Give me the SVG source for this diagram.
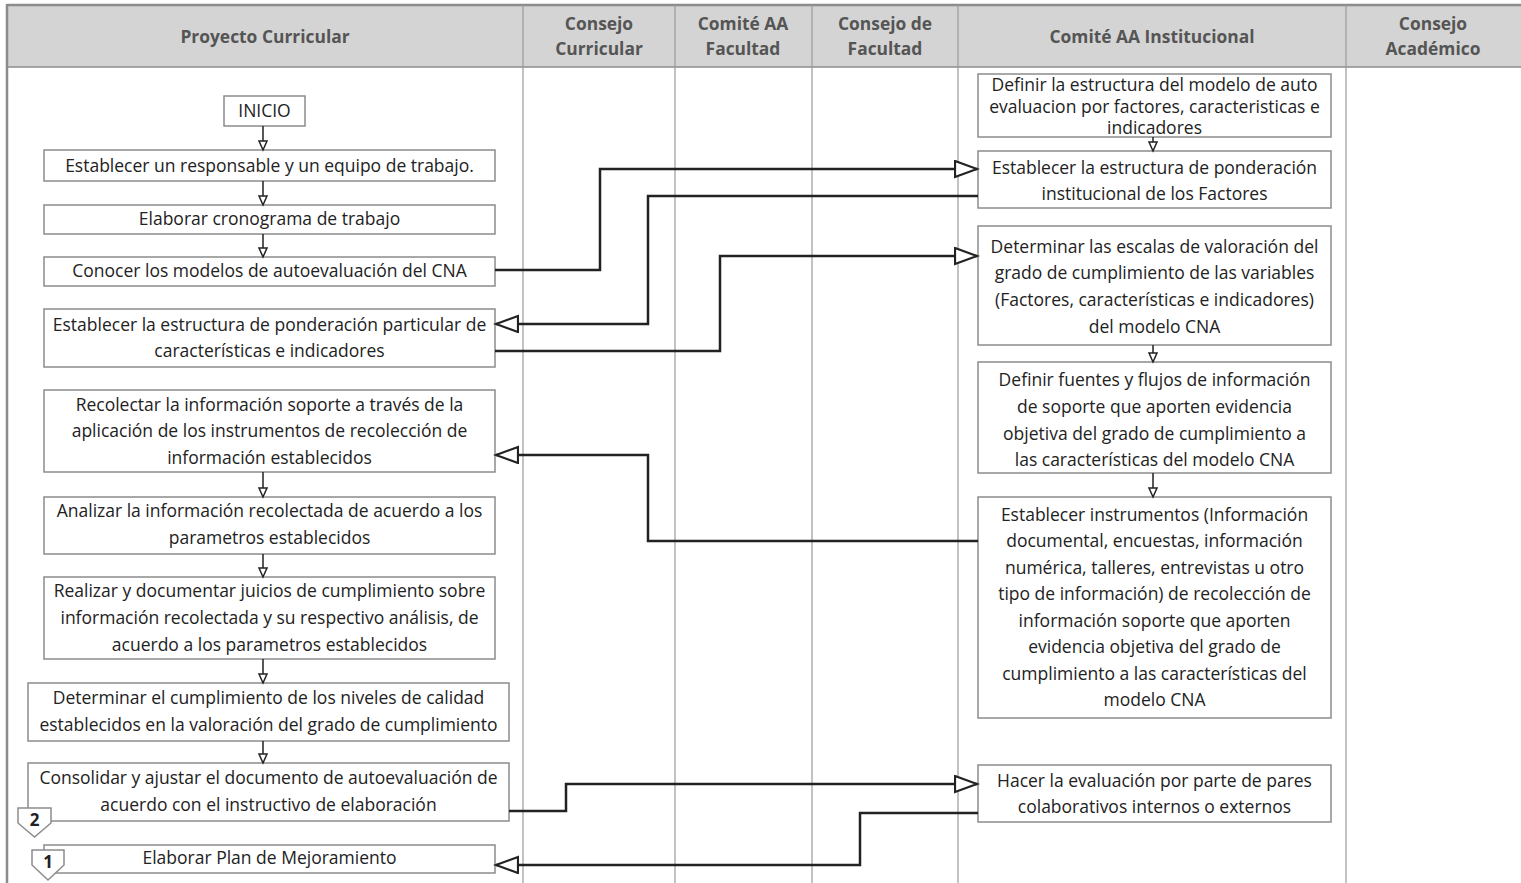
<svg xmlns="http://www.w3.org/2000/svg" width="1521" height="883" viewBox="0 0 1521 883">
<style>
.hdr{font-family:"Open Sans","Noto Sans",sans-serif;font-weight:bold;font-size:17.4px;fill:#555;text-anchor:middle}
.t{font-family:"Open Sans","Noto Sans",sans-serif;font-size:17.5px;fill:#222;text-anchor:middle}
.box{fill:#fff;stroke:#8c8c8c;stroke-width:1.5}
.lane{stroke:#9a9a9a;stroke-width:1.2;fill:none}
.con{fill:none;stroke:#222;stroke-width:2.5}
.sm{fill:none;stroke:#222;stroke-width:1.5}
.off{fill:#fff;stroke:#8c8c8c;stroke-width:1.5}
.num{font-family:"Open Sans","Noto Sans",sans-serif;font-weight:bold;font-size:17px;fill:#222;text-anchor:middle}
</style>
<defs>
<marker id="ah" markerWidth="26" markerHeight="20" refX="23" refY="9" orient="auto" markerUnits="userSpaceOnUse">
<path d="M1,1 L23,9 L1,17 L1,1 Z" fill="#fff" stroke="#222" stroke-width="2.2"/>
</marker>
</defs>
<rect width="1521" height="883" fill="#fff"/>
<g id="header">
<rect x="7" y="5" width="1520" height="62" fill="#d4d4d4"/>
<line x1="7" y1="5" x2="1521" y2="5" stroke="#8c8c8c" stroke-width="2.5"/>
<line x1="7" y1="67" x2="1521" y2="67" stroke="#8c8c8c" stroke-width="1.5"/>
<line x1="7" y1="4" x2="7" y2="883" stroke="#8c8c8c" stroke-width="2.5"/>
<line class="lane" x1="523" y1="5" x2="523" y2="883"/>
<line class="lane" x1="675" y1="5" x2="675" y2="883"/>
<line class="lane" x1="812" y1="5" x2="812" y2="883"/>
<line class="lane" x1="958" y1="5" x2="958" y2="883"/>
<line class="lane" x1="1346" y1="5" x2="1346" y2="883"/>
<text class="hdr" x="265" y="43">Proyecto Curricular</text>
<text class="hdr" x="599" y="30">Consejo</text><text class="hdr" x="599" y="55">Curricular</text>
<text class="hdr" x="743" y="30">Comité AA</text><text class="hdr" x="743" y="55">Facultad</text>
<text class="hdr" x="885" y="30">Consejo de</text><text class="hdr" x="885" y="55">Facultad</text>
<text class="hdr" x="1152" y="43">Comité AA Institucional</text>
<text class="hdr" x="1433" y="30">Consejo</text><text class="hdr" x="1433" y="55">Académico</text>
</g>

<g id="n_inicio"><rect class="box" x="224" y="96" width="81" height="30"/><text class="t" x="264.5" y="117">INICIO</text></g>
<g id="n1"><rect class="box" x="44" y="150" width="451" height="31"/><text class="t" x="269.5" y="172">Establecer un responsable y un equipo de trabajo.</text></g>
<g id="n2"><rect class="box" x="44" y="205" width="451" height="29"/><text class="t" x="269.5" y="225">Elaborar cronograma de trabajo</text></g>
<g id="n3"><rect class="box" x="44" y="257" width="451" height="29"/><text class="t" x="269.5" y="277">Conocer los modelos de autoevaluación del CNA</text></g>
<g id="n4"><rect class="box" x="44" y="309" width="451" height="58"/><text class="t" x="269.5" y="331">Establecer la estructura de ponderación particular de</text><text class="t" x="269.5" y="357">características e indicadores</text></g>
<g id="n5"><rect class="box" x="44" y="390" width="451" height="82"/><text class="t" x="269.5" y="411">Recolectar la información soporte a través de la</text><text class="t" x="269.5" y="437">aplicación de los instrumentos de recolección de</text><text class="t" x="269.5" y="464">información establecidos</text></g>
<g id="n6"><rect class="box" x="44" y="497" width="451" height="57"/><text class="t" x="269.5" y="517">Analizar la información recolectada de acuerdo a los</text><text class="t" x="269.5" y="544">parametros establecidos</text></g>
<g id="n7"><rect class="box" x="44" y="577" width="451" height="82"/><text class="t" x="269.5" y="597">Realizar y documentar juicios de cumplimiento sobre</text><text class="t" x="269.5" y="624">información recolectada y su respectivo análisis, de</text><text class="t" x="269.5" y="651">acuerdo a los parametros establecidos</text></g>
<g id="n8"><rect class="box" x="28" y="683" width="481" height="58"/><text class="t" x="268.5" y="704">Determinar el cumplimiento de los niveles de calidad</text><text class="t" x="268.5" y="731">establecidos en la valoración del grado de cumplimiento</text></g>
<g id="n9"><rect class="box" x="28" y="763" width="481" height="58"/><text class="t" x="268.5" y="784">Consolidar y ajustar el documento de autoevaluación de</text><text class="t" x="268.5" y="811">acuerdo con el instructivo de elaboración</text></g>
<g id="n10"><rect class="box" x="44" y="845" width="451" height="28"/><text class="t" x="269.5" y="864">Elaborar Plan de Mejoramiento</text></g>
<g id="off2"><polygon class="off" points="18,808 51,808 51,823 34.5,837 18,823"/><text class="num" x="34.5" y="826">2</text></g>
<g id="off1"><polygon class="off" points="32,850 64,850 64,865 48,880 32,865"/><text class="num" x="48" y="868">1</text></g>

<g id="r1"><rect class="box" x="978" y="74" width="353" height="63"/><text class="t" x="1154.5" y="91">Definir la estructura del modelo de auto</text><text class="t" x="1154.5" y="113">evaluacion por factores, caracteristicas e</text><text class="t" x="1154.5" y="134">indicadores</text></g>
<g id="r2"><rect class="box" x="978" y="151" width="353" height="57"/><text class="t" x="1154.5" y="174">Establecer la estructura de ponderación</text><text class="t" x="1154.5" y="200">institucional de los Factores</text></g>
<g id="r3"><rect class="box" x="978" y="226" width="353" height="119"/><text class="t" x="1154.5" y="253">Determinar las escalas de valoración del</text><text class="t" x="1154.5" y="279">grado de cumplimiento de las variables</text><text class="t" x="1154.5" y="306">(Factores, características e indicadores)</text><text class="t" x="1154.5" y="333">del modelo CNA</text></g>
<g id="r4"><rect class="box" x="978" y="362" width="353" height="111"/><text class="t" x="1154.5" y="386">Definir fuentes y flujos de información</text><text class="t" x="1154.5" y="413">de soporte que aporten evidencia</text><text class="t" x="1154.5" y="440">objetiva del grado de cumplimiento a</text><text class="t" x="1154.5" y="466">las características del modelo CNA</text></g>
<g id="r5"><rect class="box" x="978" y="497" width="353" height="221"/><text class="t" x="1154.5" y="521">Establecer instrumentos (Información</text><text class="t" x="1154.5" y="547">documental, encuestas, información</text><text class="t" x="1154.5" y="574">numérica, talleres, entrevistas u otro</text><text class="t" x="1154.5" y="600">tipo de información) de recolección de</text><text class="t" x="1154.5" y="627">información soporte que aporten</text><text class="t" x="1154.5" y="653">evidencia objetiva del grado de</text><text class="t" x="1154.5" y="680">cumplimiento a las características del</text><text class="t" x="1154.5" y="706">modelo CNA</text></g>
<g id="r6"><rect class="box" x="978" y="765" width="353" height="57"/><text class="t" x="1154.5" y="787">Hacer la evaluación por parte de pares</text><text class="t" x="1154.5" y="813">colaborativos internos o externos</text></g>

<g id="connectors">
<path class="sm" d="M263 126 V141 M263 141 L259 141 L263 150 L267 141 Z"/>
<path class="sm" d="M263 181 V196 M263 196 L259 196 L263 205 L267 196 Z"/>
<path class="sm" d="M263 234 V248 M263 248 L259 248 L263 257 L267 248 Z"/>
<path class="sm" d="M263 472 V488 M263 488 L259 488 L263 497 L267 488 Z"/>
<path class="sm" d="M263 554 V568 M263 568 L259 568 L263 577 L267 568 Z"/>
<path class="sm" d="M263 659 V674 M263 674 L259 674 L263 683 L267 674 Z"/>
<path class="sm" d="M263 741 V754 M263 754 L259 754 L263 763 L267 754 Z"/>
<path class="sm" d="M1153 137 V142 M1153 142 L1149 142 L1153 151 L1157 142 Z"/>
<path class="sm" d="M1153 345 V353 M1153 353 L1149 353 L1153 362 L1157 353 Z"/>
<path class="sm" d="M1153 473 V488 M1153 488 L1149 488 L1153 497 L1157 488 Z"/>
<path class="con" d="M495 270 H600 V169 H977" marker-end="url(#ah)"/>
<path class="con" d="M978 196 H648 V324 H496" marker-end="url(#ah)"/>
<path class="con" d="M495 351 H720 V256 H977" marker-end="url(#ah)"/>
<path class="con" d="M978 541 H648 V455 H496" marker-end="url(#ah)"/>
<path class="con" d="M509 811 H566 V784 H977" marker-end="url(#ah)"/>
<path class="con" d="M978 813 H860 V865 H496" marker-end="url(#ah)"/>
</g>
</svg>
